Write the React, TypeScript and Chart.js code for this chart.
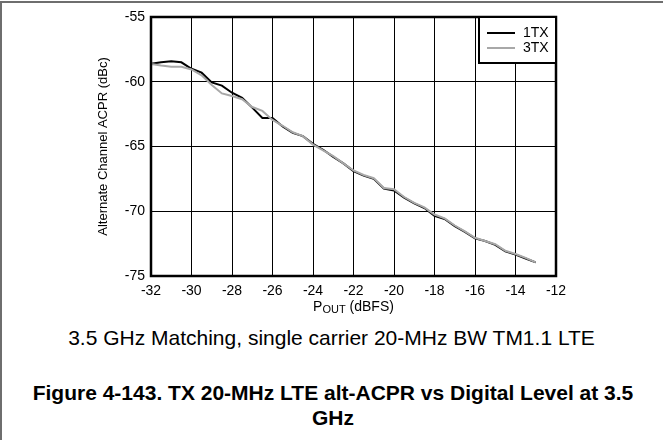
import React, { useEffect, useRef } from "react";
import { Chart, registerables } from "chart.js";

Chart.register(...registerables);

const xValues = [
  -32, -31.5, -31, -30.5, -30, -29.5, -29, -28.5, -28, -27.5, -27, -26.5, -26,
  -25.5, -25, -24.5, -24, -23.5, -23, -22.5, -22, -21.5, -21, -20.5, -20, -19.5,
  -19, -18.5, -18, -17.5, -17, -16.5, -16, -15.5, -15, -14.5, -14, -13.5, -13,
];

const tx1 = [
  -58.62, -58.5, -58.42, -58.5, -59.0, -59.3, -60.05, -60.3, -60.85, -61.25,
  -62.0, -62.8, -62.8, -63.45, -63.95, -64.2, -64.8, -65.25, -65.8, -66.3,
  -66.9, -67.25, -67.5, -68.25, -68.4, -68.95, -69.4, -69.75, -70.35, -70.6,
  -71.15, -71.6, -72.1, -72.3, -72.6, -73.1, -73.35, -73.65, -73.95,
];

const tx3 = [
  -58.62, -58.75, -58.85, -58.85, -59.05, -59.5, -60.25, -60.9, -61.1, -61.35,
  -61.95, -62.25, -62.95, -63.4, -63.9, -64.2, -64.85, -65.3, -65.75, -66.3,
  -66.85, -67.2, -67.45, -68.2, -68.3, -68.9, -69.35, -69.7, -70.25, -70.55,
  -71.1, -71.55, -72.05, -72.3, -72.55, -73.05, -73.3, -73.6, -73.95,
];

const seriesLabels = ["1TX", "3TX"];
const seriesColors = ["#000000", "#a8a8a8"];
const xTitleMain = "P";
const xTitleSub = "OUT";
const xTitleRest = " (dBFS)";
const yTitle = "Alternate Channel ACPR (dBc)";
const caption = "3.5 GHz Matching, single carrier 20-MHz BW TM1.1 LTE";
const figureTitle = "Figure 4-143. TX 20-MHz LTE alt-ACPR vs Digital Level at 3.5 GHz";

const FONT = "'Liberation Sans', Arial, sans-serif";

const framePlugin = {
  id: "frameLegend",
  afterDraw(chart: any) {
    const { ctx, chartArea } = chart;
    const { left, right, top, bottom } = chartArea;
    ctx.save();
    // thick plot border
    ctx.strokeStyle = "#000";
    ctx.lineWidth = 2.5;
    ctx.strokeRect(left, top, right - left, bottom - top);

    // legend box
    const bw = 78;
    const bh = 46;
    const bx = right - bw;
    const by = top;
    ctx.fillStyle = "#fff";
    ctx.fillRect(bx, by, bw, bh);
    ctx.lineWidth = 2;
    ctx.strokeRect(bx + 1, by, bw - 1, bh);
    ctx.font = `14px ${FONT}`;
    ctx.textBaseline = "middle";
    ctx.textAlign = "left";
    chart.data.datasets.forEach((ds: any, i: number) => {
      const y = by + 16 + i * 15;
      ctx.strokeStyle = ds.borderColor;
      ctx.lineWidth = 2;
      ctx.beginPath();
      ctx.moveTo(bx + 9, y);
      ctx.lineTo(bx + 37, y);
      ctx.stroke();
      ctx.fillStyle = "#000";
      ctx.fillText(ds.label, bx + 45, y + 0.5);
    });

    // x-axis title with subscript
    const cx = (left + right) / 2;
    const ty = bottom + 31;
    ctx.font = `14px ${FONT}`;
    const wMain = ctx.measureText(xTitleMain).width;
    ctx.font = `11px ${FONT}`;
    const wSub = ctx.measureText(xTitleSub).width;
    ctx.font = `14px ${FONT}`;
    const wRest = ctx.measureText(xTitleRest).width;
    let x = cx - (wMain + wSub + wRest) / 2;
    ctx.fillStyle = "#000";
    ctx.fillText(xTitleMain, x, ty);
    x += wMain;
    ctx.font = `11px ${FONT}`;
    ctx.fillText(xTitleSub, x, ty + 3);
    x += wSub;
    ctx.font = `14px ${FONT}`;
    ctx.fillText(xTitleRest, x, ty);
    ctx.restore();
  },
};

export default function App() {
  const canvasRef = useRef<HTMLCanvasElement | null>(null);

  useEffect(() => {
    if (!canvasRef.current) return;
    const chart = new Chart(canvasRef.current, {
      type: "line",
      data: {
        datasets: [
          {
            label: seriesLabels[0],
            data: xValues.map((x, i) => ({ x, y: tx1[i] })),
            borderColor: seriesColors[0],
            borderWidth: 2,
            pointRadius: 0,
            tension: 0,
            order: 1,
          },
          {
            label: seriesLabels[1],
            data: xValues.map((x, i) => ({ x, y: tx3[i] })),
            borderColor: seriesColors[1],
            borderWidth: 2,
            pointRadius: 0,
            tension: 0,
            order: 0,
          },
        ],
      },
      options: {
        responsive: false,
        animation: false,
        layout: { padding: { left: 96, right: 107, top: 17, bottom: 0 } },
        plugins: {
          legend: { display: false },
          tooltip: { enabled: false },
        },
        scales: {
          x: {
            type: "linear",
            min: -32,
            max: -12,
            afterFit: (s: any) => {
              s.height = 44;
            },
            ticks: {
              stepSize: 2,
              color: "#000",
              padding: 7,
              font: { family: FONT, size: 14 },
              maxRotation: 0,
            },
            grid: { color: "#000", lineWidth: 1, drawTicks: false },
            border: { display: false },
          },
          y: {
            type: "linear",
            min: -75,
            max: -55,
            afterFit: (s: any) => {
              s.width = 55;
            },
            ticks: {
              stepSize: 5,
              color: "#000",
              padding: 6,
              font: { family: FONT, size: 14 },
            },
            grid: { color: "#000", lineWidth: 1, drawTicks: false },
            border: { display: false },
            title: {
              display: true,
              text: yTitle,
              color: "#000",
              padding: 0,
              font: { family: FONT, size: 13 },
            },
          },
        },
      },
      plugins: [framePlugin],
    });
    return () => chart.destroy();
  }, []);

  return (
    <div
      style={{
        position: "absolute",
        left: 0,
        top: 0,
        width: 663,
        height: 440,
        background: "#fff",
        fontFamily: FONT,
        overflow: "hidden",
      }}
    >
      <div style={{ position: "absolute", left: 0, top: 1, width: 663, height: 2, background: "#6e6e6e" }} />
      <div style={{ position: "absolute", left: 0, top: 1, width: 2, height: 439, background: "#6e6e6e" }} />
      <canvas
        ref={canvasRef}
        width={663}
        height={320}
        style={{ position: "absolute", left: 0, top: 0, width: 663, height: 320 }}
      />
      <div
        style={{
          position: "absolute",
          left: 0,
          width: 663,
          top: 325,
          textAlign: "center",
          fontSize: 21,
          lineHeight: "26px",
          color: "#000",
        }}
      >
        {caption}
      </div>
      <div
        style={{
          position: "absolute",
          left: 20,
          width: 626,
          top: 380,
          textAlign: "center",
          fontSize: 21,
          fontWeight: "bold",
          lineHeight: "25px",
          color: "#000",
        }}
      >
        {figureTitle}
      </div>
    </div>
  );
}
